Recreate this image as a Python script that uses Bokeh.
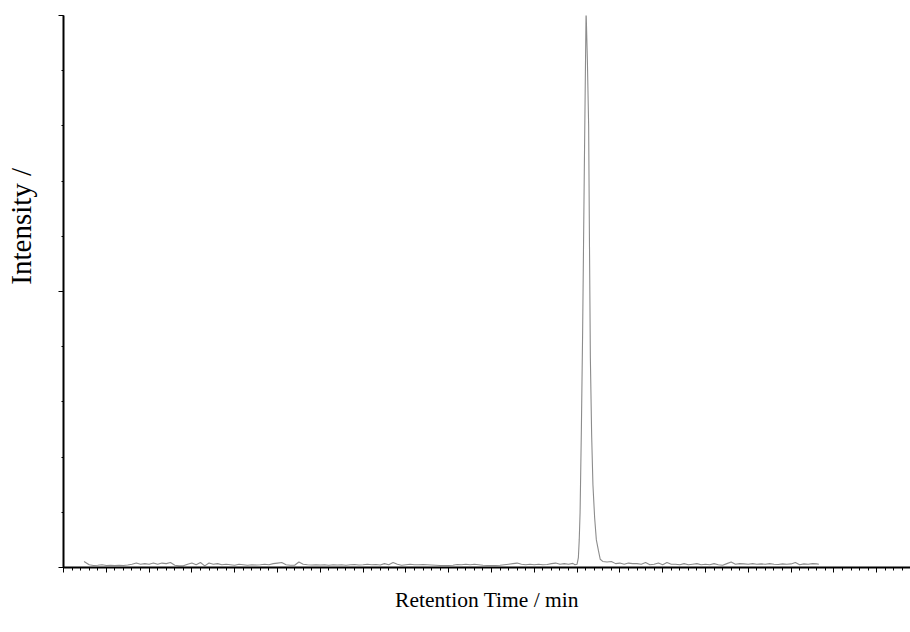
from bokeh.plotting import figure
from bokeh.models import FixedTicker, Range1d, CustomJSTickFormatter
from bokeh.embed import file_html
from bokeh.resources import INLINE

# Retention time (min) and intensity (% of axis height)
time_min = [
    0.48, 0.6, 0.7, 0.8, 0.9, 1.0, 1.1, 1.2, 1.3, 1.4, 1.5, 1.6, 1.7, 1.8, 1.9,
    2.0, 2.1, 2.2, 2.3, 2.4, 2.5, 2.6, 2.7, 2.8, 2.9, 3.0, 3.1, 3.2, 3.3, 3.4,
    3.5, 3.6, 3.7, 3.8, 3.9, 4.0, 4.1, 4.2, 4.3, 4.4, 4.5, 4.6, 4.7, 4.8, 4.9,
    5.0, 5.1, 5.2, 5.3, 5.4, 5.5, 5.6, 5.7, 5.8, 5.9, 6.0, 6.1, 6.2, 6.3, 6.4,
    6.5, 6.6, 6.7, 6.8, 6.9, 7.0, 7.1, 7.2, 7.3, 7.4, 7.5, 7.6, 7.7, 7.8, 7.9,
    8.0, 8.1, 8.2, 8.3, 8.4, 8.5, 8.6, 8.7, 8.8, 8.9, 9.0, 9.1, 9.2, 9.3, 9.4,
    9.5, 9.6, 9.7, 9.8, 9.9, 10.0, 10.1, 10.2, 10.3, 10.4, 10.5, 10.6, 10.7,
    10.8, 10.9, 11.0, 11.1, 11.2, 11.3, 11.4, 11.5, 11.6, 11.7, 11.8, 11.9, 11.95,
    12.00, 12.03, 12.05, 12.07, 12.10, 12.13, 12.17, 12.21, 12.24, 12.27, 12.29,
    12.31, 12.34, 12.37, 12.41, 12.45, 12.50, 12.54,
    12.6, 12.7, 12.8, 12.9, 13.0, 13.1, 13.2, 13.3, 13.4, 13.5, 13.6, 13.7, 13.8,
    13.9, 14.0, 14.1, 14.2, 14.3, 14.4, 14.5, 14.6, 14.7, 14.8, 14.9, 15.0, 15.1,
    15.2, 15.3, 15.4, 15.5, 15.6, 15.7, 15.8, 15.9, 16.0, 16.1, 16.2, 16.3, 16.4,
    16.5, 16.6, 16.7, 16.8, 16.9, 17.0, 17.1, 17.2, 17.3, 17.4, 17.5, 17.6, 17.65,
]
intensity = [
    1.1, 0.5, 0.35, 0.4, 0.5, 0.35, 0.4, 0.35, 0.4, 0.35, 0.45, 0.6, 0.8, 0.6, 0.7,
    0.6, 0.8, 0.6, 0.8, 0.7, 0.9, 0.4, 0.3, 0.3, 0.6, 0.8, 0.5, 0.9, 0.3, 0.8,
    0.6, 0.7, 0.5, 0.6, 0.5, 0.4, 0.6, 0.5, 0.4, 0.5, 0.45, 0.5, 0.6, 0.5, 0.7,
    0.8, 0.9, 0.5, 0.4, 0.4, 1.0, 0.6, 0.5, 0.45, 0.5, 0.45, 0.5, 0.4, 0.5, 0.45,
    0.5, 0.4, 0.5, 0.55, 0.45, 0.5, 0.6, 0.5, 0.55, 0.45, 0.7, 0.5, 0.9, 0.6, 0.4,
    0.5, 0.6, 0.5, 0.5, 0.55, 0.5, 0.45, 0.4, 0.35, 0.35, 0.35, 0.4, 0.55, 0.5, 0.6,
    0.5, 0.6, 0.5, 0.4, 0.35, 0.35, 0.35, 0.4, 0.5, 0.6, 0.7, 0.8, 0.6,
    0.5, 0.6, 0.5, 0.6, 0.5, 0.55, 0.7, 0.8, 0.6, 0.7, 0.6, 0.75, 0.5,
    0.6, 1.8, 5.0, 10.0, 25.0, 43.0, 73.0, 101.0, 92.0, 80.0, 58.0,
    38.0, 24.0, 15.0, 9.0, 5.0, 3.0, 1.5,
    1.1, 1.0, 1.1, 0.7, 0.8, 0.6, 0.8, 0.7, 0.7, 0.6, 0.9, 0.5, 0.6,
    0.8, 0.5, 0.9, 0.6, 0.6, 0.5, 0.7, 0.5, 0.6, 0.7, 0.5, 0.6, 0.5,
    0.7, 0.5, 0.4, 0.7, 1.0, 0.6, 0.7, 0.65, 0.6, 0.7, 0.6, 0.65, 0.6,
    0.7, 0.6, 0.55, 0.65, 0.6, 0.65, 0.9, 0.5, 0.65, 0.6, 0.7, 0.65, 0.6,
]

x_major_ticks = list(range(0, 20))
x_minor_ticks = [round(i * 0.2, 1) for i in range(0, 100)]
y_major_ticks = [0, 50, 100]
y_minor_ticks = list(range(0, 101, 10))

x_label = "Retention Time / min"
y_label = "Intensity /"

SERIF = "Liberation Serif"

p = figure(
    width=910, height=624,
    output_backend="svg", toolbar_location=None,
    x_range=Range1d(0, 19.79), y_range=Range1d(0, 100),
    min_border_left=63, min_border_right=0, min_border_top=15, min_border_bottom=57,
)
p.outline_line_color = None
p.xgrid.visible = False
p.ygrid.visible = False
p.background_fill_color = "white"
p.border_fill_color = "white"

p.line(time_min, intensity, line_color="#8c8c8c", line_width=1.1)

blank = CustomJSTickFormatter(code="return ''")
for ax in (p.xaxis[0], p.yaxis[0]):
    ax.axis_line_color = "black"
    ax.axis_line_width = 2
    ax.major_tick_line_color = "black"
    ax.minor_tick_line_color = "black"
    ax.major_tick_line_width = 1
    ax.minor_tick_line_width = 1
    ax.major_tick_in = 0
    ax.minor_tick_in = 0
    ax.major_tick_out = 5
    ax.minor_tick_out = 3
    ax.formatter = blank
    ax.major_label_standoff = 0

p.xaxis.ticker = FixedTicker(ticks=x_major_ticks, minor_ticks=x_minor_ticks)
p.yaxis.ticker = FixedTicker(ticks=y_major_ticks, minor_ticks=y_minor_ticks)
p.yaxis.minor_tick_out = 2

p.xaxis.axis_label = x_label
p.xaxis.axis_label_text_font = SERIF
p.xaxis.axis_label_text_font_style = "normal"
p.xaxis.axis_label_text_font_size = "21.5px"
p.xaxis.axis_label_text_color = "black"
p.xaxis.axis_label_standoff = 15

# leading no-break spaces move the centred label up, so it starts at the mid tick
p.yaxis.axis_label = "\u00a0" * 18 + y_label
p.yaxis.axis_label_text_font = SERIF
p.yaxis.axis_label_text_font_style = "normal"
p.yaxis.axis_label_text_font_size = "29px"
p.yaxis.axis_label_text_color = "black"
p.yaxis.axis_label_standoff = 22

open("out.html", "w").write(file_html(p, INLINE))
